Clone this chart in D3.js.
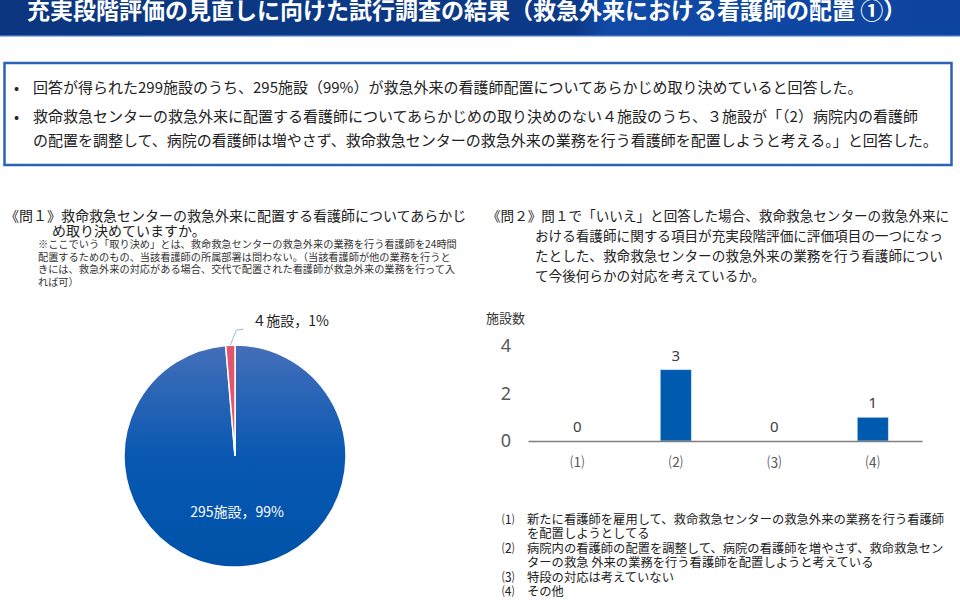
<!DOCTYPE html>
<html lang="ja">
<head>
<meta charset="utf-8">
<script src="https://d3js.org/d3.v7.min.js"></script>
<style>
  body { margin: 0; background: #fff; }
  svg { display: block; font-family: "Noto Sans CJK JP", "Noto Sans", sans-serif; }
</style>
</head>
<body>
<svg width="960" height="600"></svg>
<script>
// pie data (問1)
var pieLabels = ["295施設，99%", "４施設，1%"];
var pieValues = [295, 4];
var pieColors = ["url(#pieBlue)", "#e0566e"];

// bar data (問2)
var barCategories = ["⑴", "⑵", "⑶", "⑷"];
var barValues = [0, 3, 0, 1];
var yTicks = [0, 2, 4];

var title = "充実段階評価の見直しに向けた試行調査の結果（救急外来における看護師の配置 ①）";
var bullets = [
  ["回答が得られた299施設のうち、295施設（99%）が救急外来の看護師配置についてあらかじめ取り決めていると回答した。"],
  ["救命救急センターの救急外来に配置する看護師についてあらかじめの取り決めのない４施設のうち、３施設が「（2）病院内の看護師",
   "の配置を調整して、病院の看護師は増やさず、救命救急センターの救急外来の業務を行う看護師を配置しようと考える。」と回答した。"]
];
var q1 = ["《問１》救命救急センターの救急外来に配置する看護師についてあらかじ", "め取り決めていますか。"];
var q1note = [
  "※ここでいう「取り決め」とは、救命救急センターの救急外来の業務を行う看護師を24時間",
  "配置するためのもの、当該看護師の所属部署は問わない。（当該看護師が他の業務を行うと",
  "きには、救急外来の対応がある場合、交代で配置された看護師が救急外来の業務を行って入",
  "れば可）"
];
var q2 = ["《問２》問１で「いいえ」と回答した場合、救命救急センターの救急外来に",
  "おける看護師に関する項目が充実段階評価に評価項目の一つになっ",
  "たとした、救命救急センターの救急外来の業務を行う看護師につい",
  "て今後何らかの対応を考えているか。"];
var legend = [
  ["⑴", "新たに看護師を雇用して、救命救急センターの救急外来の業務を行う看護師", "を配置しようとしてる"],
  ["⑵", "病院内の看護師の配置を調整して、病院の看護師を増やさず、救命救急セン", "ターの救急 外来の業務を行う看護師を配置しようと考えている"],
  ["⑶", "特段の対応は考えていない"],
  ["⑷", "その他"]
];

var svg = d3.select("svg");
var defs = svg.append("defs");

var hg = defs.append("linearGradient").attr("id", "hdr").attr("x1", 0).attr("x2", 1).attr("y1", 0).attr("y2", 0);
hg.append("stop").attr("offset", "0%").attr("stop-color", "#0b367f");
hg.append("stop").attr("offset", "60%").attr("stop-color", "#0c3a88");
hg.append("stop").attr("offset", "63%").attr("stop-color", "#1149a6");
hg.append("stop").attr("offset", "100%").attr("stop-color", "#0c44a0");

var pg = defs.append("linearGradient").attr("id", "pieBlue").attr("x1", 0).attr("x2", 0).attr("y1", 0).attr("y2", 1);
pg.append("stop").attr("offset", "0%").attr("stop-color", "#456fb9");
pg.append("stop").attr("offset", "50%").attr("stop-color", "#0858b2");
pg.append("stop").attr("offset", "100%").attr("stop-color", "#0052a8");

// header
svg.append("rect").attr("x", 0).attr("y", 0).attr("width", 960).attr("height", 36).attr("fill", "url(#hdr)");
svg.append("rect").attr("x", 0).attr("y", 35).attr("width", 960).attr("height", 1.5).attr("fill", "#3d6fc0");
svg.append("text").attr("x", 27).attr("y", 19).attr("fill", "#fff")
  .attr("font-size", 23).attr("font-weight", "bold").text(title);

// summary box
svg.append("rect").attr("x", 4.5).attr("y", 63).attr("width", 947).attr("height", 102)
  .attr("fill", "none").attr("stroke", "#2a62b4").attr("stroke-width", 2.5);
var by = [93, 122, 146];
var li = 0;
bullets.forEach(function (b) {
  svg.append("text").attr("x", 14).attr("y", by[li]).attr("font-size", 15).attr("fill", "#222").text("•");
  b.forEach(function (line) {
    svg.append("text").attr("x", 33).attr("y", by[li]).attr("font-size", 15).attr("fill", "#222").text(line);
    li++;
  });
});

// question texts
function lines(arr, x, y0, dy, size, col) {
  svg.append("g").selectAll("text").data(arr).join("text")
    .attr("x", function (d, i) { return (typeof x === "function") ? x(i) : x; })
    .attr("y", function (d, i) { return y0 + i * dy; })
    .attr("font-size", size).attr("fill", col).text(function (d) { return d; });
}
lines(q1, function (i) { return i ? 52 : 5; }, 221, 14.5, 14, "#222");
lines(q1note, 38, 248, 12.6, 10.2, "#333");
lines(q2, function (i) { return i ? 535 : 487; }, 221, 20, 13.6, "#222");

// pie
var cx = 235, cy = 456, r = 111;
var pie = d3.pie().sort(null).value(function (d) { return d; });
var arcs = pie(pieValues);
var arc = d3.arc().innerRadius(0).outerRadius(r);
var pieG = svg.append("g").attr("transform", "translate(" + cx + "," + cy + ")");
pieG.selectAll("path").data(arcs).join("path")
  .attr("d", arc).attr("fill", function (d, i) { return pieColors[i]; })
  .attr("stroke", "#fff").attr("stroke-width", 1.5);

// inside label for large slice
pieG.append("text").attr("x", 2).attr("y", 61).attr("text-anchor", "middle")
  .attr("font-size", 14).attr("fill", "#fff").text(pieLabels[0]);

// leader line + label for small slice
var sm = arcs[1];
var mid = (sm.startAngle + sm.endAngle) / 2;
var px = Math.sin(mid) * r, py = -Math.cos(mid) * r;
pieG.append("path")
  .attr("d", "M" + px + "," + py + "L" + (px + 6) + "," + (py - 15) + "L" + (px + 13) + "," + (py - 16))
  .attr("fill", "none").attr("stroke", "#9fb6dd").attr("stroke-width", 1);
pieG.append("text").attr("x", px + 22).attr("y", py - 19).attr("font-size", 14).attr("fill", "#222").text(pieLabels[1]);

// bar chart
var x = d3.scaleBand().domain(barCategories).range([528, 922]).paddingInner(0.685).paddingOuter(0.3425);
var y = d3.scaleLinear().domain([0, 4]).range([441, 346]);

svg.append("text").attr("x", 486).attr("y", 323).attr("font-size", 13).attr("fill", "#333").text("施設数");

var yAxis = svg.append("g").attr("transform", "translate(528,0)")
  .call(d3.axisLeft(y).tickValues(yTicks).tickFormat(d3.format("d")).tickSize(0).tickPadding(17));
yAxis.select(".domain").remove();
yAxis.selectAll("text").attr("font-size", 18).attr("fill", "#595959")
  .attr("font-family", "\"Noto Sans\", sans-serif");

svg.append("g").selectAll("rect").data(barValues).join("rect")
  .attr("x", function (d, i) { return x(barCategories[i]); })
  .attr("y", function (d) { return y(d); })
  .attr("width", x.bandwidth())
  .attr("height", function (d) { return y(0) - y(d); })
  .attr("fill", "#005aad").attr("stroke", "#cfe0f5").attr("stroke-width", 0.6);

svg.append("g").selectAll("text").data(barValues).join("text")
  .attr("x", function (d, i) { return x(barCategories[i]) + x.bandwidth() / 2; })
  .attr("y", function (d) { return y(d) - 9; })
  .attr("text-anchor", "middle").attr("font-size", 15).attr("fill", "#404040")
  .attr("font-family", "\"Noto Sans\", sans-serif")
  .text(function (d) { return d; });

var xAxis = svg.append("g").attr("transform", "translate(0,441)")
  .call(d3.axisBottom(x).tickSize(0).tickPadding(16));
xAxis.select(".domain").attr("stroke", "#7f7f7f").attr("stroke-width", 1.5);
xAxis.selectAll("text").attr("font-size", 14).attr("fill", "#595959")
  .attr("font-family", "\"Noto Sans CJK JP\", sans-serif");

// legend
var ly = 524;
legend.forEach(function (item) {
  svg.append("text").attr("x", 502).attr("y", ly).attr("font-size", 12.3).attr("fill", "#222").text(item[0]);
  item.slice(1).forEach(function (t) {
    svg.append("text").attr("x", 527).attr("y", ly).attr("font-size", 12.3).attr("fill", "#222").text(t);
    ly += 14.4;
  });
});
</script>
</body>
</html>
